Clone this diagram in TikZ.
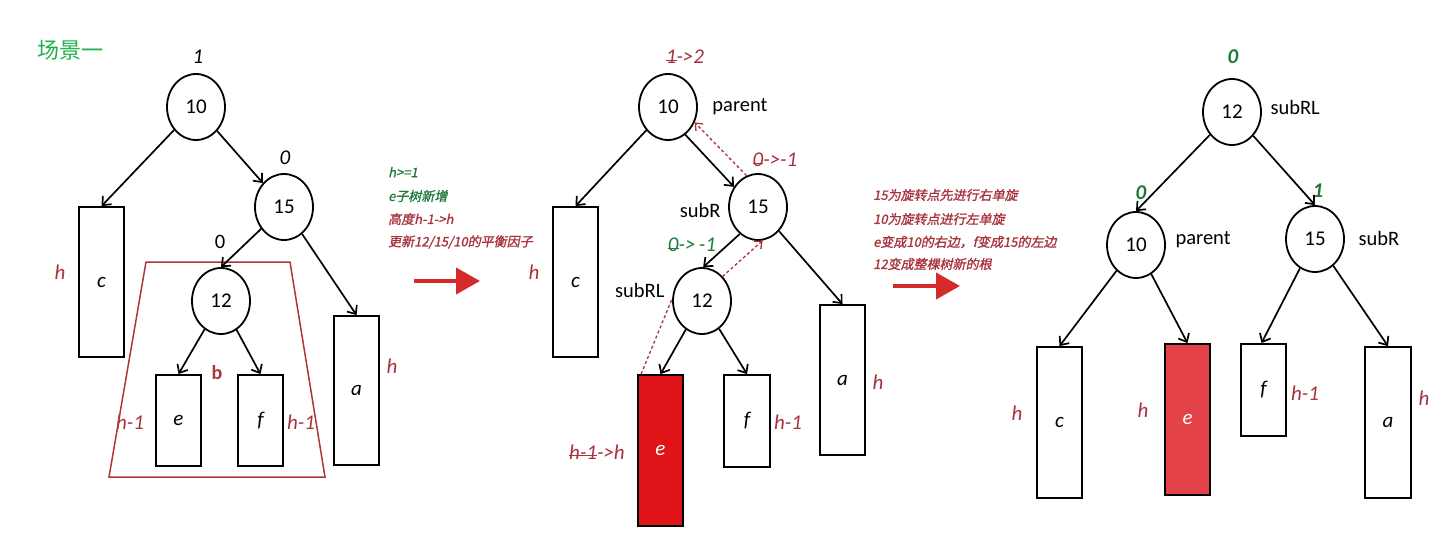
\documentclass[tikz,border=0pt]{standalone}
\usepackage{fontspec}
\setmainfont{Carlito}
\newfontfamily\cjk{Noto Sans CJK SC}
\newfontfamily\cjkit[FakeSlant=0.2,FakeBold=1.2]{Noto Sans CJK SC}
\usetikzlibrary{shapes.geometric,arrows.meta}
\definecolor{tgreen}{HTML}{22B14C}
\definecolor{dgreen}{HTML}{1F7A3A}
\definecolor{tred}{HTML}{A8323E}
\definecolor{ared}{HTML}{D42A2A}
\definecolor{efill}{HTML}{E01418}
\definecolor{efilltwo}{HTML}{E24248}
\definecolor{trapc}{HTML}{B0353A}
\newcommand\xstrike[1]{\setbox0\hbox{#1}\rlap{\raisebox{0.3ex}{\rule{\wd0}{0.9pt}}}\box0}
\begin{document}
\begin{tikzpicture}[x=1pt,y=-1pt,
  tnode/.style={ellipse, draw, line width=1.8pt, minimum width=58pt, minimum height=66pt, inner sep=0pt, font=\fontsize{21}{21}\selectfont},
  hbox/.style={rectangle, draw, line width=1.8pt, minimum width=45pt, inner sep=0pt, font=\fontsize{21}{21}\selectfont\itshape},
  lbl/.style={font=\fontsize{20.5}{20.5}\selectfont},
  rlbl/.style={text=tred, font=\fontsize{21}{21}\selectfont\itshape},
  bf/.style={font=\fontsize{21}{21}\selectfont\itshape},
  gf/.style={text=dgreen, font=\fontsize{21}{21}\selectfont\itshape\bfseries},
  edge/.style={line width=1.7pt, -{Straight Barb[length=7pt,width=12pt]}},
  dedge/.style={draw=tred, line width=1.3pt, dash pattern=on 3pt off 2.5pt, -{Straight Barb[length=6pt,width=10pt]}},
  redarrow/.style={draw=ared, line width=4pt, -{Triangle[length=24pt,width=26pt]}},
  note/.style={anchor=west, inner sep=0pt, font=\cjkit\fontsize{13}{13}\selectfont}
]
\useasboundingbox (0,0) rectangle (1453,538);
\fill[white] (0,0) rectangle (1453,538);

% ---------- Panel 1 ----------
\node[text=tgreen, font=\cjk\fontsize{22}{22}\selectfont] (title) at (70,50) {场景一};
\node[tnode] (a10) at (196,107) {10};
\node[tnode] (a15) at (284,207) {15};
\node[tnode] (a12) at (221,301) {12};
\node[bf] (a10bf) at (198,57) {1};
\node[bf] (a15bf) at (285,158) {0};
\node[lbl] (a12bf) at (220,242) {0};
\node[hbox, minimum height=150pt] (ac) at (101.5,282) {c};
\node[hbox, minimum height=149pt] (aa) at (356.5,390.5) {a};
\node[hbox, minimum height=91pt] (ae) at (178.5,420.5) {e};
\node[hbox, minimum height=91pt] (af) at (260.5,420.5) {f};
\node[rlbl] (ach) at (60,272) {h};
\node[rlbl] (aah) at (392,366) {h};
\node[rlbl] (aeh) at (130,422) {h-1};
\node[rlbl] (afh) at (301,422) {h-1};
\node[text=trapc, font=\fontsize{20}{20}\selectfont\bfseries] (ab) at (217,373) {b};
\draw[trapc, line width=1.5pt] (146,262) -- (290,262) -- (325,477) -- (109,477) -- cycle;
\draw[edge] (a10) -- (ac.north);
\draw[edge] (a10) -- (a15);
\draw[edge] (a15) -- (a12.north);
\draw[edge] (a15) -- (aa.north);
\draw[edge] (a12) -- (ae.north);
\draw[edge] (a12) -- (af.north);

% notes 1
\node[note, text=dgreen] (n1) at (388,172) {h>=1};
\node[note, text=dgreen] (n2) at (388,196) {e子树新增};
\node[note, text=tred] (n3) at (388,219) {高度h-1->h};
\node[note, text=tred] (n4) at (388,242) {更新12/15/10的平衡因子};
\coordinate (r1s) at (414,281);
\coordinate (r1e) at (480,281);
\draw[redarrow] (r1s) -- (r1e);

% ---------- Panel 2 ----------
\node[tnode] (b10) at (668,107) {10};
\node[tnode] (b15) at (758,207) {15};
\node[tnode] (b12) at (702,301) {12};
\node[rlbl] (b10bf) at (685,57) {\xstrike{1}->2};
\node[rlbl] (b15bf) at (775,160) {\xstrike{0}->-1};
\node[text=dgreen, font=\fontsize{21}{21}\selectfont\itshape] (b12bf) at (692,245) {\xstrike{0}->\,-1};
\node[lbl] (bpar) at (740,107) {parent};
\node[lbl, anchor=east] (bsubr) at (724,210) {subR};
\node[lbl, anchor=east] (bsubrl) at (668,290) {subRL};
\node[hbox, minimum height=150pt] (bc) at (575.5,282) {c};
\node[hbox, minimum height=150pt] (ba) at (842.5,380) {a};
\node[hbox, minimum height=151pt, fill=efill, text=white] (be) at (660.5,450.5) {e};
\node[hbox, minimum height=92pt, minimum width=46pt] (bf) at (747,421) {f};
\node[rlbl] (bch) at (534,272) {h};
\node[rlbl] (bah) at (878,382) {h};
\node[rlbl] (bfh) at (788,422) {h-1};
\node[rlbl] (beh) at (597,452) {\xstrike{h-1}->h};
\draw[edge] (b10) -- (bc.north);
\draw[edge] (b10.-58) -- (b15.140);
\draw[edge] (b15.-124) -- (b12.88);
\draw[edge] (b15) -- (ba.north);
\draw[edge] (b12) -- (be.north);
\draw[edge] (b12) -- (bf.north);
\draw[dedge] (b15.110) -- (b10.-30);
\draw[dedge] (b12.50) -- (b15.-82);
\draw[tred, line width=1.3pt, dash pattern=on 3pt off 2.5pt] ([xshift=4pt]be.north west) -- (b12.175);

% notes 2
\node[note, text=tred] (m1) at (873,195) {15为旋转点先进行右单旋};
\node[note, text=tred] (m2) at (873,219) {10为旋转点进行左单旋};
\node[note, text=tred] (m3) at (873,242) {e变成10的右边，f变成15的左边};
\node[note, text=tred] (m4) at (873,264) {12变成整棵树新的根};
\coordinate (r2s) at (893,286);
\coordinate (r2e) at (960,286);
\draw[redarrow] (r2s) -- (r2e);

% ---------- Panel 3 ----------
\node[tnode] (c12) at (1232,112) {12};
\node[tnode] (c10) at (1136,245) {10};
\node[tnode] (c15) at (1315,239) {15};
\node[gf] (c12bf) at (1233,57) {0};
\node[gf] (c10bf) at (1141,193) {0};
\node[gf] (c15bf) at (1318,191) {1};
\node[lbl, anchor=west] (csubrl) at (1267,107) {subRL};
\node[lbl, anchor=west] (cpar) at (1172,240) {parent};
\node[lbl, anchor=west] (csubr) at (1355,238) {subR};
\node[hbox, minimum height=151pt] (cc) at (1059.5,422.5) {c};
\node[hbox, minimum height=151pt, fill=efilltwo, text=white] (ce) at (1187.5,419.5) {e};
\node[hbox, minimum height=92pt] (cf) at (1263.5,390) {f};
\node[hbox, minimum height=151pt, minimum width=46pt] (ca) at (1388,422.5) {a};
\node[rlbl] (cch) at (1017,413) {h};
\node[rlbl] (ceh) at (1143,410) {h};
\node[rlbl] (cfh) at (1305,393) {h-1};
\node[rlbl] (cah) at (1424,398) {h};
\draw[edge] (c12) -- (c10.north);
\draw[edge] (c12) -- (c15.north);
\draw[edge] (c10) -- (cc.north);
\draw[edge] (c10) -- (ce.north);
\draw[edge] (c15) -- ([xshift=-2pt]cf.north);
\draw[edge] (c15) -- (ca.north);
\end{tikzpicture}
\end{document}
